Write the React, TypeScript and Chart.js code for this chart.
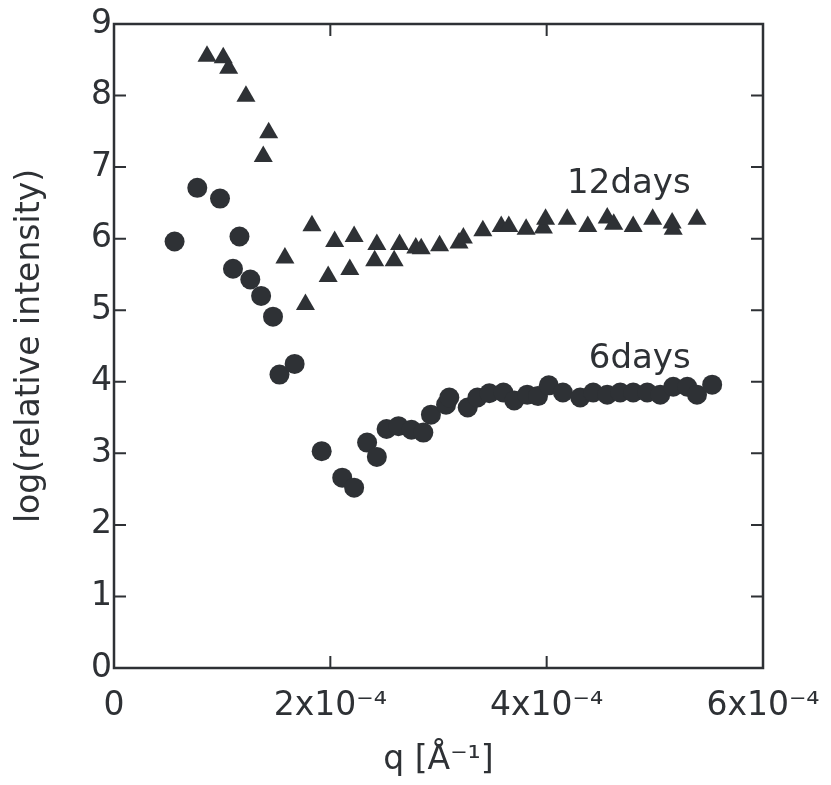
import React, { useEffect, useRef } from "react";
import { Chart, registerables } from "chart.js";

Chart.register(...registerables);

// 6 days series (q in Å^-1, log intensity)
const q6days = [
  0.56e-4, 0.77e-4, 0.98e-4, 1.10e-4, 1.16e-4, 1.26e-4, 1.36e-4, 1.47e-4, 1.53e-4, 1.67e-4,
  1.92e-4, 2.11e-4, 2.22e-4, 2.34e-4, 2.43e-4, 2.52e-4, 2.63e-4, 2.75e-4, 2.86e-4, 2.93e-4,
  3.07e-4, 3.10e-4, 3.27e-4, 3.36e-4, 3.47e-4, 3.60e-4, 3.70e-4, 3.82e-4, 3.92e-4, 4.02e-4,
  4.15e-4, 4.31e-4, 4.43e-4, 4.56e-4, 4.68e-4, 4.80e-4, 4.93e-4, 5.05e-4, 5.17e-4, 5.30e-4,
  5.39e-4, 5.53e-4,
];
const i6days = [
  5.96, 6.71, 6.56, 5.58, 6.03, 5.43, 5.20, 4.91, 4.10, 4.25,
  3.03, 2.66, 2.52, 3.15, 2.95, 3.34, 3.38, 3.33, 3.29, 3.54,
  3.68, 3.78, 3.64, 3.78, 3.84, 3.85, 3.74, 3.82, 3.80, 3.95,
  3.85, 3.78, 3.85, 3.82, 3.85, 3.85, 3.85, 3.82, 3.93, 3.93,
  3.82, 3.96,
];

// 12 days series
const q12days = [
  0.86e-4, 1.01e-4, 1.06e-4, 1.22e-4, 1.38e-4, 1.43e-4, 1.58e-4, 1.77e-4, 1.83e-4, 1.98e-4,
  2.04e-4, 2.18e-4, 2.22e-4, 2.41e-4, 2.43e-4, 2.59e-4, 2.64e-4, 2.79e-4, 2.84e-4, 3.01e-4,
  3.19e-4, 3.23e-4, 3.41e-4, 3.58e-4, 3.65e-4, 3.81e-4, 3.97e-4, 3.99e-4, 4.19e-4, 4.38e-4,
  4.56e-4, 4.62e-4, 4.80e-4, 4.98e-4, 5.16e-4, 5.17e-4, 5.39e-4,
];
const i12days = [
  8.55, 8.53, 8.38, 7.99, 7.15, 7.48, 5.73, 5.08, 6.18, 5.47,
  5.96, 5.57, 6.03, 5.69, 5.92, 5.69, 5.92, 5.87, 5.86, 5.90,
  5.94, 6.01, 6.11, 6.17, 6.17, 6.13, 6.15, 6.27, 6.27, 6.17,
  6.29, 6.20, 6.17, 6.27, 6.22, 6.13, 6.27,
];

const xTicks = [0, 2e-4, 4e-4, 6e-4];
const yTicks = [0, 1, 2, 3, 4, 5, 6, 7, 8, 9];

const seriesLabels = [
  { text: "12days", q: 4.76e-4, v: 6.76 },
  { text: "6days", q: 4.86e-4, v: 4.32 },
];

const INK = "#2e3135";
const FONT = "'DejaVu Sans', 'Liberation Sans', sans-serif";

const framePlugin = {
  id: "frame",
  afterDatasetsDraw(chart: any) {
    const { ctx, chartArea: a, scales } = chart;
    const xs = scales.x;
    const ys = scales.y;
    ctx.save();
    ctx.strokeStyle = INK;
    ctx.lineWidth = 2.5;
    ctx.strokeRect(a.left, a.top, a.right - a.left, a.bottom - a.top);
    ctx.lineWidth = 2;
    const tl = 12;
    xTicks.forEach((t) => {
      if (t === xTicks[0] || t === xTicks[xTicks.length - 1]) return;
      const px = xs.getPixelForValue(t);
      ctx.beginPath();
      ctx.moveTo(px, a.bottom);
      ctx.lineTo(px, a.bottom - tl);
      ctx.moveTo(px, a.top);
      ctx.lineTo(px, a.top + tl);
      ctx.stroke();
    });
    yTicks.forEach((t) => {
      if (t === yTicks[0] || t === yTicks[yTicks.length - 1]) return;
      const py = ys.getPixelForValue(t);
      ctx.beginPath();
      ctx.moveTo(a.left, py);
      ctx.lineTo(a.left + tl, py);
      ctx.moveTo(a.right, py);
      ctx.lineTo(a.right - tl, py);
      ctx.stroke();
    });
    ctx.fillStyle = INK;
    ctx.font = `34px ${FONT}`;
    ctx.textAlign = "center";
    ctx.textBaseline = "middle";
    seriesLabels.forEach((l) => {
      ctx.fillText(l.text, xs.getPixelForValue(l.q), ys.getPixelForValue(l.v));
    });
    ctx.restore();
  },
};

export default function App() {
  const ref = useRef<HTMLCanvasElement | null>(null);

  useEffect(() => {
    if (!ref.current) return;
    const chart = new Chart(ref.current, {
      type: "scatter",
      data: {
        datasets: [
          {
            label: "6days",
            data: q6days.map((q, i) => ({ x: q, y: i6days[i] })),
            pointStyle: "circle",
            pointRadius: 10,
            backgroundColor: INK,
            borderColor: INK,
            borderWidth: 0,
          },
          {
            label: "12days",
            data: q12days.map((q, i) => ({ x: q, y: i12days[i] })),
            pointStyle: "triangle",
            pointRadius: 11,
            backgroundColor: INK,
            borderColor: INK,
            borderWidth: 0,
          },
        ],
      },
      options: {
        responsive: false,
        animation: false,
        layout: { padding: { left: 0, top: 24, right: 68, bottom: 0 } },
        plugins: {
          legend: { display: false },
          tooltip: { enabled: false },
        },
        scales: {
          x: {
            type: "linear",
            min: 0,
            max: 6e-4,
            afterBuildTicks: (s: any) => {
              s.ticks = xTicks.map((v) => ({ value: v }));
            },
            afterFit: (s: any) => {
              s.height = 117;
              s.paddingLeft = 0;
              s.paddingRight = 0;
            },
            grid: { display: false, drawTicks: false },
            border: { display: false },
            ticks: {
              color: INK,
              font: { family: FONT, size: 33 },
              padding: 19,
              maxRotation: 0,
              autoSkip: false,
              callback: (v: any) =>
                Number(v) === 0 ? "0" : `${Math.round(Number(v) * 1e4)}x10⁻⁴`,
            },
            title: {
              display: true,
              text: "q [Å⁻¹]",
              color: INK,
              font: { family: FONT, size: 33 },
              padding: { top: 4, bottom: 5 },
            },
          },
          y: {
            type: "linear",
            min: 0,
            max: 9,
            afterBuildTicks: (s: any) => {
              s.ticks = yTicks.map((v) => ({ value: v }));
            },
            afterFit: (s: any) => {
              s.width = 114;
              s.paddingTop = 0;
              s.paddingBottom = 0;
            },
            grid: { display: false, drawTicks: false },
            border: { display: false },
            ticks: {
              color: INK,
              font: { family: FONT, size: 33 },
              padding: 2,
              autoSkip: false,
            },
            title: {
              display: true,
              text: "log(relative intensity)",
              color: INK,
              font: { family: FONT, size: 33 },
              padding: { top: 11, bottom: 0 },
            },
          },
        },
      },
      plugins: [framePlugin],
    });
    return () => chart.destroy();
  }, []);

  return (
    <div style={{ position: "absolute", left: 0, top: 0, width: 831, height: 785, background: "#fff" }}>
      <canvas ref={ref} width={831} height={785} style={{ display: "block" }} />
    </div>
  );
}
